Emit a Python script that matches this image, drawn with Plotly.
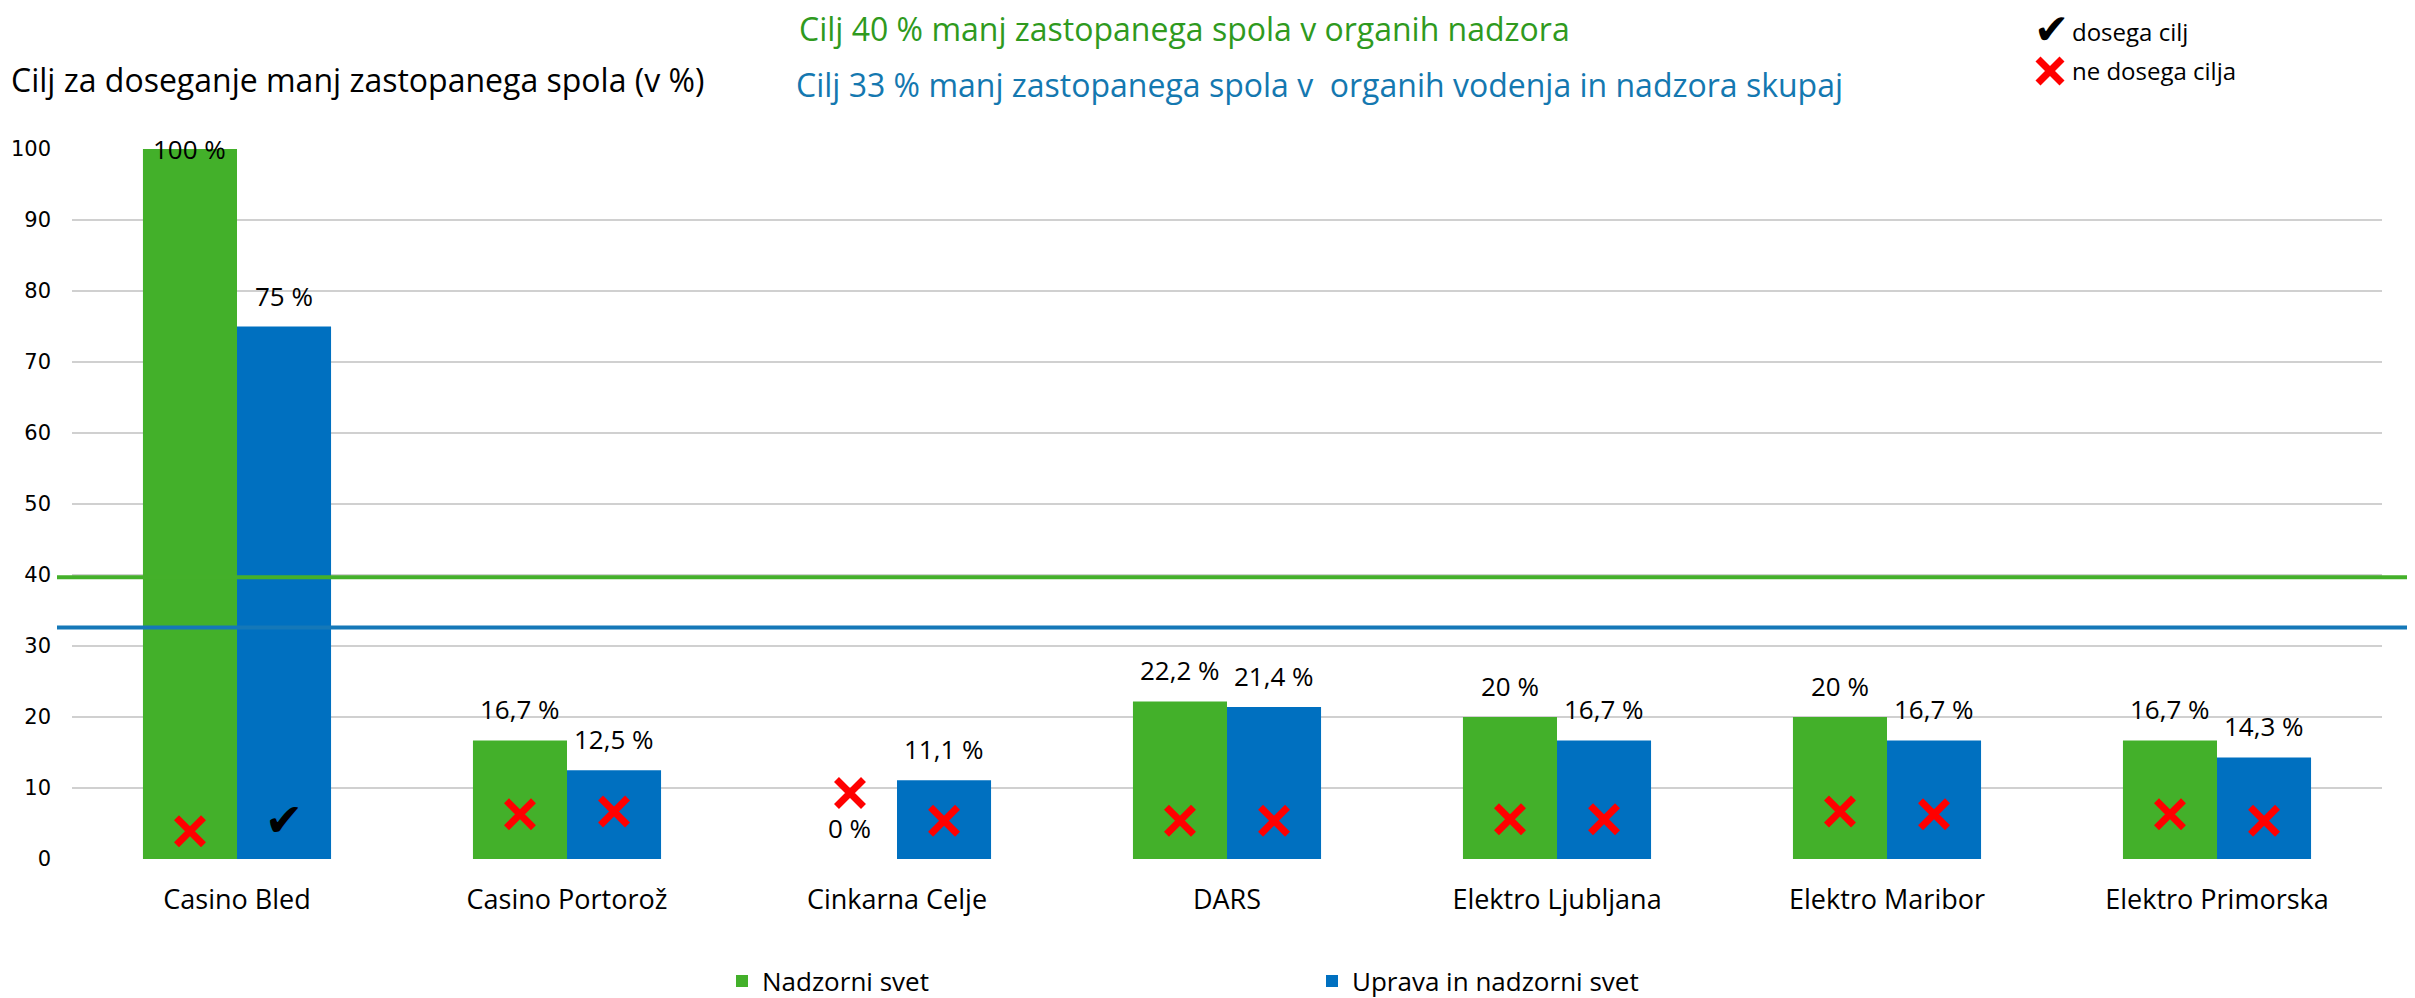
import plotly.graph_objects as go

# ---------------- data ----------------
categories = ["Casino Bled", "Casino Portorož", "Cinkarna Celje", "DARS",
              "Elektro Ljubljana", "Elektro Maribor", "Elektro Primorska"]
nadzorni_svet = [100, 16.7, 0, 22.2, 20, 20, 16.7]
uprava_in_nadzorni = [75, 12.5, 11.1, 21.4, 16.7, 16.7, 14.3]
labels_nadzorni = ["100 %", "16,7 %", "0 %", "22,2 %", "20 %", "20 %", "16,7 %"]
labels_uprava = ["75 %", "12,5 %", "11,1 %", "21,4 %", "16,7 %", "16,7 %", "14,3 %"]
reached_nadzorni = [False, False, False, False, False, False, False]
reached_uprava = [True, False, False, False, False, False, False]
target_nadzor = 39.7
target_skupaj = 32.6
y_ticks = [0, 10, 20, 30, 40, 50, 60, 70, 80, 90, 100]

# ---------------- layout constants ----------------
PAGE_OFF = 8            # default body margin of the html page
W, H = 2415 - PAGE_OFF, 998 - PAGE_OFF
L, R, T = 64, 33, 141
PLOT_BOTTOM = 851
B = H - PLOT_BOTTOM
PW, PH = W - L - R, PLOT_BOTTOM - T
BAR_W = 0.285
mark_y_nadzorni = [3.9, 6.3, 9.3, 5.4, 5.6, 6.7, 6.3]
mark_y_uprava = [4.9, 6.7, 5.4, 5.4, 5.6, 6.3, 5.4]

GREEN = "#43B02A"
BLUE = "#0070C0"
RED = "#FF0000"
FONT = "Open Sans"
CROSS = dict(symbol="x-thin", size=27, line=dict(width=7, color=RED))
CHECK_FONT = dict(family="DejaVu Sans", size=46, color="#000000")


def px_x(p):
    """reference-window pixel x -> paper x"""
    return (p - PAGE_OFF - L) / PW


def px_y(p):
    """reference-window pixel y -> paper y"""
    return (PLOT_BOTTOM - (p - PAGE_OFF)) / PH


idx = list(range(len(categories)))

fig = go.Figure()
fig.add_trace(go.Bar(x=idx, y=nadzorni_svet, width=BAR_W, offset=-BAR_W,
                     marker=dict(color=GREEN, line=dict(width=0)),
                     name="Nadzorni svet", hoverinfo="y"))
fig.add_trace(go.Bar(x=idx, y=uprava_in_nadzorni, width=BAR_W, offset=0,
                     marker=dict(color=BLUE, line=dict(width=0)),
                     name="Uprava in nadzorni svet", hoverinfo="y"))

for xs_off, ys, flags in [(-BAR_W / 2, mark_y_nadzorni, reached_nadzorni),
                          (BAR_W / 2, mark_y_uprava, reached_uprava)]:
    miss_x = [i + xs_off for i, f in zip(idx, flags) if not f]
    miss_y = [y for y, f in zip(ys, flags) if not f]
    hit_x = [i + xs_off for i, f in zip(idx, flags) if f]
    hit_y = [y for y, f in zip(ys, flags) if f]
    fig.add_trace(go.Scatter(x=miss_x, y=miss_y, mode="markers", marker=CROSS,
                             showlegend=False, hoverinfo="skip"))
    fig.add_trace(go.Scatter(x=hit_x, y=hit_y, mode="text", text=["✔"] * len(hit_x),
                             textposition="middle center", textfont=CHECK_FONT,
                             showlegend=False, hoverinfo="skip"))

annotations = []
for vals, labs, off in [(nadzorni_svet, labels_nadzorni, -BAR_W / 2),
                        (uprava_in_nadzorni, labels_uprava, BAR_W / 2)]:
    for i, (v, t) in enumerate(zip(vals, labs)):
        top = v >= 95
        annotations.append(dict(
            x=i + off, y=v, xref="x", yref="y", text=t, showarrow=False,
            yanchor="middle" if top else "bottom", yshift=0 if top else 11,
            font=dict(family=FONT, size=26, color="#000000")))

# header texts and symbol key
annotations += [
    dict(x=px_x(9), y=px_y(80), xref="paper", yref="paper", xanchor="left",
         yanchor="middle", showarrow=False,
         text="Cilj za doseganje manj zastopanega spola (v %)",
         font=dict(family=FONT, size=32, color="#000000")),
    dict(x=px_x(797), y=px_y(28), xref="paper", yref="paper", xanchor="left",
         yanchor="middle", showarrow=False,
         text="Cilj 40 % manj zastopanega spola v organih nadzora",
         font=dict(family=FONT, size=32, color="#2F9A1E")),
    dict(x=px_x(794), y=px_y(85), xref="paper", yref="paper", xanchor="left",
         yanchor="middle", showarrow=False,
         text="Cilj 33 % manj zastopanega spola v&nbsp; organih vodenja in nadzora skupaj",
         font=dict(family=FONT, size=32, color="#1478B0")),
    dict(x=px_x(2051), y=px_y(29), xref="paper", yref="paper", xanchor="center",
         yanchor="middle", showarrow=False, text="✔", height=36,
         font=dict(family="DejaVu Sans", size=42, color="#000000")),
    dict(x=px_x(2070), y=px_y(31), xref="paper", yref="paper", xanchor="left",
         yanchor="middle", showarrow=False, text="dosega cilj",
         font=dict(family=FONT, size=24, color="#000000")),
    dict(x=px_x(2070), y=px_y(71), xref="paper", yref="paper", xanchor="left",
         yanchor="middle", showarrow=False, text="ne dosega cilja",
         font=dict(family=FONT, size=24, color="#000000")),
]

shapes = [
    dict(type="line", xref="paper", yref="y", x0=px_x(57), x1=px_x(2415),
         y0=target_nadzor, y1=target_nadzor, line=dict(color="#44B02A", width=4),
         layer="above"),
    dict(type="line", xref="paper", yref="y", x0=px_x(57), x1=px_x(2415),
         y0=target_skupaj, y1=target_skupaj, line=dict(color="#1578B8", width=4),
         layer="above"),
]
# red cross of the symbol key (two strokes, sized in pixels)
for sgn in (1, -1):
    shapes.append(dict(type="line", xref="paper", yref="paper",
                       xsizemode="pixel", ysizemode="pixel",
                       xanchor=px_x(2050), yanchor=px_y(71),
                       x0=-12, x1=12, y0=-12 * sgn, y1=12 * sgn,
                       line=dict(color=RED, width=7)))

fig.update_layout(
    width=W, height=H,
    margin=dict(l=L, r=R, t=T, b=B, autoexpand=False),
    paper_bgcolor="white", plot_bgcolor="white",
    barmode="overlay",
    annotations=annotations, shapes=shapes,
    showlegend=True,
    legend=dict(orientation="h", x=px_x(722), y=px_y(981), xanchor="left",
                yanchor="middle", entrywidth=545, entrywidthmode="pixels",
                font=dict(family=FONT, size=26, color="#000000"),
                bgcolor="rgba(0,0,0,0)", itemclick=False, itemdoubleclick=False),
    xaxis=dict(range=[-0.5, len(categories) - 0.5], tickmode="array",
               tickvals=idx, ticktext=categories, showgrid=False,
               zeroline=False, showline=False, ticks="", ticklabelstandoff=22,
               tickfont=dict(family=FONT, size=27, color="#000000")),
    yaxis=dict(range=[0, 100], tickmode="array", tickvals=y_ticks,
               showgrid=True, gridcolor="#d0d0d0", gridwidth=2,
               zeroline=False, showline=False, ticks="", ticklabelstandoff=20,
               tickfont=dict(family="DejaVu Sans", size=21, color="#000000")),
)

fig.write_html("out.html")
